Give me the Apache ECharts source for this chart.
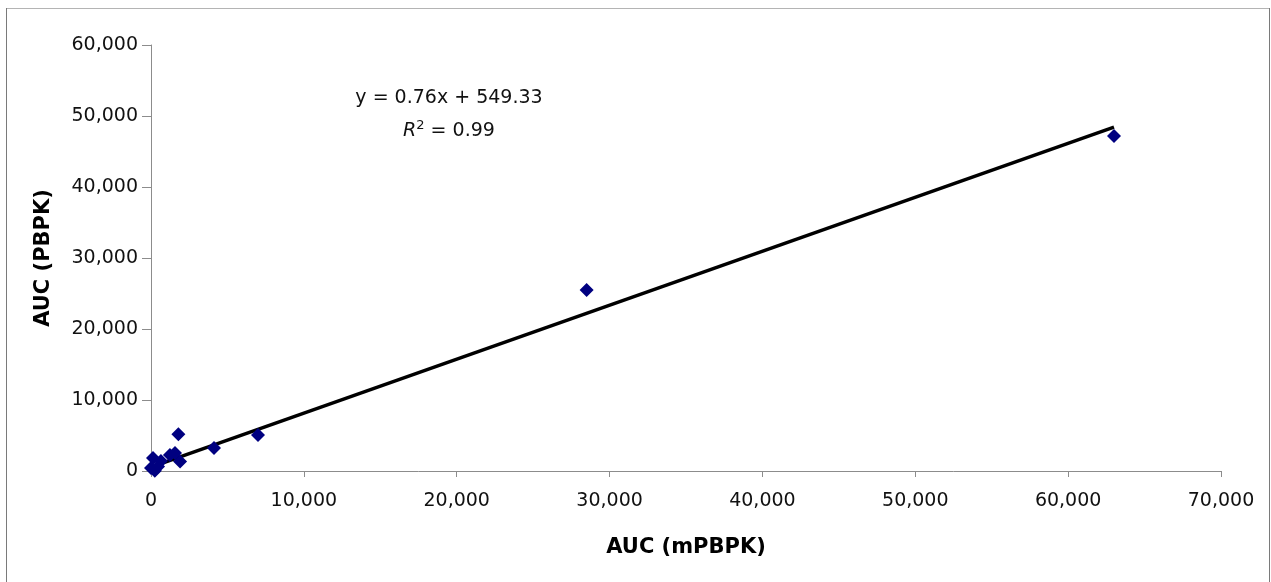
<!DOCTYPE html>
<html>
<head>
<meta charset="utf-8">
<script src="https://cdn.jsdelivr.net/npm/echarts@6/dist/echarts.min.js"></script>
<style>
  html, body { margin: 0; padding: 0; background: #fff; }
  #chart { width: 1271px; height: 582px; }
</style>
</head>
<body>
<div id="chart"></div>
<script>
// AUC values
var aucMpbpk = [0, 130, 250, 460, 650, 1240, 1570, 1790, 1900, 4120, 7000, 28500, 63000];
var aucPbpk  = [420, 1830, 50, 630, 1400, 2250, 2540, 5170, 1340, 3240, 5070, 25500, 47200];
var xTicks = [0, 10000, 20000, 30000, 40000, 50000, 60000, 70000];
var yTicks = [0, 10000, 20000, 30000, 40000, 50000, 60000];
// trendline as given in the chart
var slope = 0.76, intercept = 549.33;
var fitRange = [0, 63000];

var points = aucMpbpk.map(function (x, i) { return [x, aucPbpk[i]]; });
var fitLine = fitRange.map(function (x) { return [x, slope * x + intercept]; });

function fmt(v) { return v.toLocaleString('en-US'); }

var chart = echarts.init(document.getElementById('chart'));
var font = 'DejaVu Sans';
var axisGray = '#8c8c8c';
var textColor = '#111';

var option = {
    animation: false,
    backgroundColor: '#fff',
    grid: { left: 151, right: 50, top: 45, bottom: 111 },
    xAxis: {
        type: 'value',
        min: xTicks[0], max: xTicks[xTicks.length - 1], interval: 10000,
        name: 'AUC (mPBPK)',
        nameLocation: 'middle',
        nameGap: 66,
        nameTextStyle: { fontFamily: font, fontSize: 21, fontWeight: 'bold', color: '#000' },
        splitLine: { show: false },
        axisLine: { lineStyle: { color: axisGray, width: 1 } },
        axisTick: { show: true, inside: false, length: 6, lineStyle: { color: axisGray } },
        axisLabel: { fontFamily: font, fontSize: 19, color: textColor, margin: 21, formatter: fmt }
    },
    yAxis: {
        type: 'value',
        min: yTicks[0], max: yTicks[yTicks.length - 1], interval: 10000,
        name: 'AUC (PBPK)',
        nameLocation: 'middle',
        nameGap: 97,
        nameTextStyle: { fontFamily: font, fontSize: 21, fontWeight: 'bold', color: '#000' },
        splitLine: { show: false },
        axisLine: { show: true, lineStyle: { color: axisGray, width: 1 } },
        axisTick: { show: true, inside: false, length: 9, lineStyle: { color: axisGray } },
        axisLabel: { fontFamily: font, fontSize: 19, color: textColor, margin: 13, formatter: fmt }
    },
    graphic: [
        {
            type: 'line', silent: true,
            shape: { x1: 6, y1: 8.5, x2: 1270, y2: 8.5 },
            style: { stroke: '#b4b4b4', lineWidth: 1 }
        },
        {
            type: 'line', silent: true,
            shape: { x1: 6.5, y1: 8, x2: 6.5, y2: 582 },
            style: { stroke: '#7a7a7a', lineWidth: 1 }
        },
        {
            type: 'line', silent: true,
            shape: { x1: 1269.5, y1: 8, x2: 1269.5, y2: 582 },
            style: { stroke: '#7a7a7a', lineWidth: 1 }
        },
        {
            type: 'text', x: 449, y: 98,
            style: {
                text: 'y = 0.76x + 549.33', align: 'center', verticalAlign: 'middle',
                font: '19px "DejaVu Sans"', fill: textColor
            }
        },
        {
            type: 'text', x: 449, y: 131,
            style: {
                text: '{i|R}{s|2}{n| = 0.99}', align: 'center', verticalAlign: 'middle',
                rich: {
                    i: { fontFamily: font, fontSize: 19, fontStyle: 'italic', fill: textColor },
                    s: { fontFamily: font, fontSize: 13, fill: textColor, padding: [0, 0, 10, 0] },
                    n: { fontFamily: font, fontSize: 19, fill: textColor }
                }
            }
        }
    ],
    series: [
        {
            name: 'fit',
            type: 'line',
            data: fitLine,
            showSymbol: false,
            symbol: 'none',
            lineStyle: { color: '#000', width: 3.5 },
            z: 2
        },
        {
            name: 'AUC',
            type: 'scatter',
            data: points,
            symbol: 'diamond',
            symbolSize: 14,
            itemStyle: { color: '#000080', opacity: 1 },
            z: 3
        }
    ]
};
chart.setOption(option);
</script>
</body>
</html>
